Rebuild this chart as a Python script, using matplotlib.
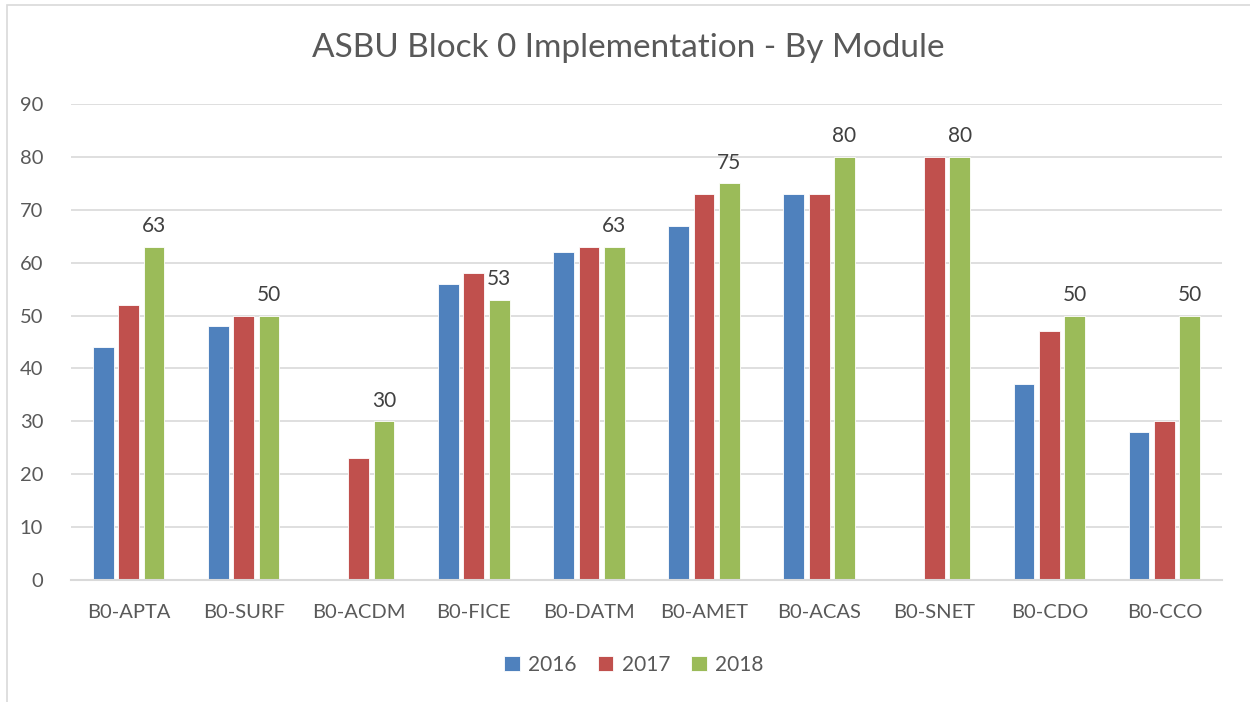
import numpy as np
import matplotlib
matplotlib.use("Agg")
from matplotlib import pyplot as plt
from matplotlib.patches import Rectangle

# data (0 = no bar)
modules = ['B0-APTA', 'B0-SURF', 'B0-ACDM', 'B0-FICE', 'B0-DATM',
           'B0-AMET', 'B0-ACAS', 'B0-SNET', 'B0-CDO', 'B0-CCO']
y2016 = [44, 48, 0, 56, 62, 67, 73, 0, 37, 28]
y2017 = [52, 50, 23, 58, 63, 73, 73, 80, 47, 30]
y2018 = [63, 50, 30, 53, 63, 75, 80, 80, 50, 50]
years = ['2016', '2017', '2018']
colors = ['#4F81BD', '#C0504D', '#9BBB59']

plt.rcParams['font.family'] = ['Lato', 'DejaVu Sans']
txt = '#595959'

fig = plt.figure(figsize=(12.5, 7.02), dpi=100)
ax = fig.add_axes([71 / 1250, 1 - 580 / 702, 1151 / 1250, 476 / 702])

x = np.arange(len(modules))
w = 0.18
step = 0.22
series = [y2016, y2017, y2018]
for i, (vals, c, lab) in enumerate(zip(series, colors, years)):
    bars = ax.bar(x + (i - 1) * step, vals, width=w, color=c, label=lab,
                  edgecolor='white', linewidth=0.6, zorder=3)
    if i == 2:
        for b, v in zip(bars, vals):
            ax.text(b.get_x() + b.get_width() / 2, v + 2.0, str(v),
                    ha='center', va='bottom', fontsize=15, color='#404040')

ax.set_xlim(-0.5, len(modules) - 0.5)
ax.set_ylim(0, 90)
ax.set_yticks(range(0, 91, 10))
ax.set_xticks(x)
ax.set_xticklabels(modules)
ax.grid(axis='y', color='#D9D9D9', linewidth=1.2, zorder=0)
ax.tick_params(axis='both', length=0, labelsize=14.5, colors=txt)
ax.tick_params(axis='x', pad=17)
ax.tick_params(axis='y', pad=20)
for s in ['top', 'right', 'left']:
    ax.spines[s].set_visible(False)
ax.spines['bottom'].set_color('#D9D9D9')
ax.spines['bottom'].set_linewidth(1.5)
ax.spines['bottom'].set_zorder(4)

fig.text(0.503, 1 - 48 / 702, 'ASBU Block 0 Implementation - By Module',
         ha='center', va='center', fontsize=24, color=txt)

leg = ax.legend(loc='center', bbox_to_anchor=(0.507, 1 - 665 / 702), bbox_transform=fig.transFigure,
                ncol=3, frameon=False, fontsize=15, handlelength=0.75, handleheight=0.75,
                handletextpad=0.4, columnspacing=1.0)
for t in leg.get_texts():
    t.set_color(txt)

# chart border
fig.patches.append(Rectangle((7 / 1250, -0.05), 1.5, 1 - 5 / 702 + 0.05, transform=fig.transFigure,
                             fill=False, edgecolor='#D9D9D9', linewidth=1.2))

fig.savefig('out.png', dpi=100)
